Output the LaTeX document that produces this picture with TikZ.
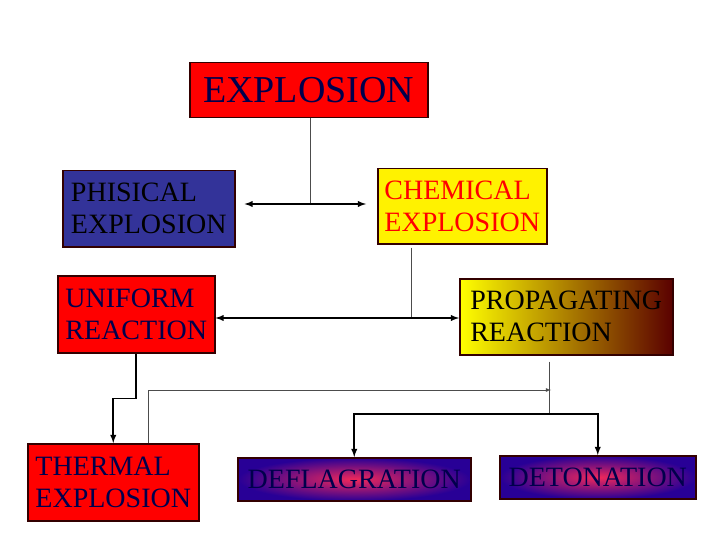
\documentclass[tikz,border=0pt]{standalone}
\usepackage{fontspec}
\setmainfont{Liberation Serif}
\usepackage{tikz}

\tikzset{
  box/.style={draw=black!80!red, line width=1.5pt, anchor=north west, align=left,
    inner sep=3pt, font=\fontsize{28}{32}\selectfont},
  thk/.style={black, line width=1.8pt},
  thn/.style={black!70, line width=0.8pt},
  tip/.style={-latex},
  dbl/.style={latex-latex},
}

\begin{document}
\begin{tikzpicture}[x=1pt,y=-1pt]
\useasboundingbox (0,0) rectangle (720,540);
% boxes
\node [box, fill=red, text=black!70!blue, minimum width=238, minimum height=55, align=center,
  font=\fontsize{38}{40}\selectfont] (expl) at (189,62) {EXPLOSION};
\node [box, fill={rgb,255:red,51;green,51;blue,153}, text=black, minimum width=172, minimum height=76] (phys) at (62,170) {PHISICAL\\EXPLOSION};
\node [box, fill=yellow, text=red, minimum width=169, minimum height=75] (chem) at (377,168) {CHEMICAL\\EXPLOSION};
\node [box, fill=red, text=black!70!blue, minimum width=157, minimum height=77] (uni) at (57,275) {UNIFORM\\REACTION};
\node [box, left color=yellow, middle color=red, right color={rgb,255:red,90;green,0;blue,0},
  text=black, minimum width=213, minimum height=76] (prop) at (459,278) {PROPAGATING\\REACTION};
\node [box, fill=red, text=black!70!blue, minimum width=171, minimum height=77] (therm) at (27,443) {THERMAL\\EXPLOSION};
\node [box, inner color={rgb,255:red,240;green,40;blue,90}, outer color={rgb,255:red,40;green,0;blue,150},
  text=black!70!blue, minimum width=233, minimum height=43, align=center] (defl) at (237,457) {DEFLAGRATION};
\node [box, inner color={rgb,255:red,240;green,40;blue,90}, outer color={rgb,255:red,40;green,0;blue,150},
  text=black!70!blue, minimum width=196, minimum height=43, align=center] (det) at (499,455) {DETONATION};
% connectors
\coordinate (k1) at (310,204);
\coordinate (k2) at (411,318);
\coordinate (pa) at (551,390);
\coordinate (split) at (549,414);
\draw [thn] (expl.south -| k1) -- (k1);
\draw [thk, dbl] (243,204 -| phys.east) ++(9,0) -- ([xshift=-11]chem.west |- k1);
\draw [thn] (chem.south -| k2) ++(0,3) -- (k2);
\draw [thk, dbl] (uni.east |- k2) -- (prop.west |- k2);
\draw [thk, tip] (uni.south) -- ++(0,45) -| (therm.north);
\draw [thn, tip] ([xshift=35]therm.north) |- (pa);
\draw [thn] (prop.south -| split) ++(0,6) -- (split);
\draw [thk, tip] (split) -| (defl.north);
\draw [thk, tip] (split) -| (det.north);
\end{tikzpicture}
\end{document}
